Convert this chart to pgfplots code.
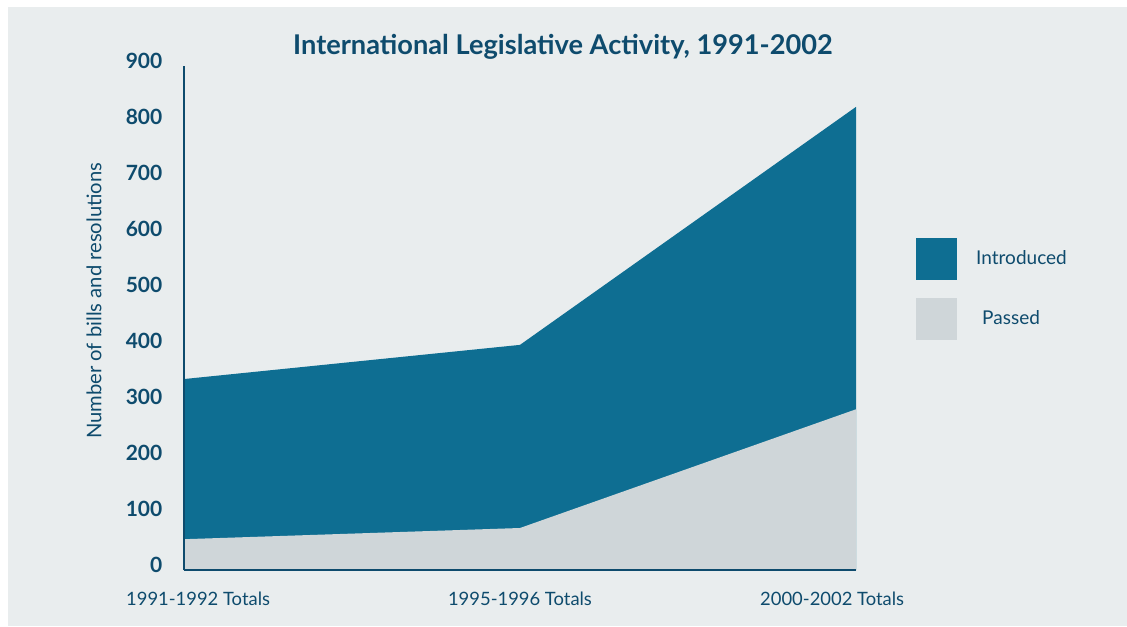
\documentclass[border=0pt]{standalone}
\usepackage{pgfplots}
\pgfplotsset{compat=1.18}
\usepackage{fontspec}
\setmainfont{Lato}
\definecolor{bgcol}{HTML}{E9EDEE}
\definecolor{introcol}{HTML}{0E6E92}
\definecolor{passcol}{HTML}{CFD6D9}
\definecolor{txtcol}{HTML}{0E4B6D}
\begin{document}
\begin{tikzpicture}[x=0.5pt,y=0.5pt]
\useasboundingbox (0,0) rectangle (1127,626);
\fill[white] (0,0) rectangle (1127,626);
\fill[bgcol] (8,0) rectangle (1127,619);
\begin{axis}[
  at={(92pt,28pt)}, anchor=origin,
  scale only axis, width=336pt, height=252pt,
  xmin=0, xmax=2, ymin=0, ymax=900,
  enlargelimits=false, clip=false, axis on top,
  axis x line=bottom, axis y line=left,
  axis line style={-, line width=1.25pt, color=txtcol},
  tick style={draw=none},
  xtick={0.042,1,1.929},
  xticklabels={1991-1992 Totals,1995-1996 Totals,2000-2002 Totals},
  ytick={0,100,...,900},
  /pgf/number format/assume math mode=true,
  yticklabel style={font=\fontsize{10.5}{12}\selectfont\bfseries, text=txtcol, anchor=east, inner sep=0pt, xshift=-8.5pt, yshift=2.5pt},
  xticklabel style={font=\fontsize{9.2}{11}\selectfont, text=txtcol, anchor=north, inner sep=0pt, yshift=-8.5pt},
  ylabel={Number of bills and resolutions},
  ylabel style={font=\fontsize{10.1}{12}\selectfont, text=txtcol, at={(axis description cs:-0.134,0.534)}, anchor=center, rotate=0},
  every axis title shift=0pt,
  title={International Legislative Activity, 1991-2002},
  title style={font=\fontsize{13.6}{16}\selectfont\bfseries, text=txtcol, at={(axis description cs:0.564,1.038)}, anchor=center},
  legend style={at={(axis description cs:1.089,0.659)}, anchor=north west, draw=none, fill=none, inner sep=0pt,
    font=\fontsize{9.5}{11}\selectfont, text=txtcol, row sep=9pt,
    nodes={inner sep=0pt, anchor=west}},
  legend cell align=left,
  legend image code/.code={\fill[#1,draw=none] (0pt,-10.5pt) rectangle (20.5pt,10.5pt);},
]
\addplot[fill=introcol, draw=none] coordinates {(0,341) (1,402) (2,827)} \closedcycle;
\addlegendentry{\hspace{9.5pt}Introduced}
\addplot[fill=passcol, draw=none] coordinates {(0,55) (1,75) (2,287)} \closedcycle;
\addlegendentry{\hspace{12.5pt}Passed}
\end{axis}
\end{tikzpicture}
\end{document}
